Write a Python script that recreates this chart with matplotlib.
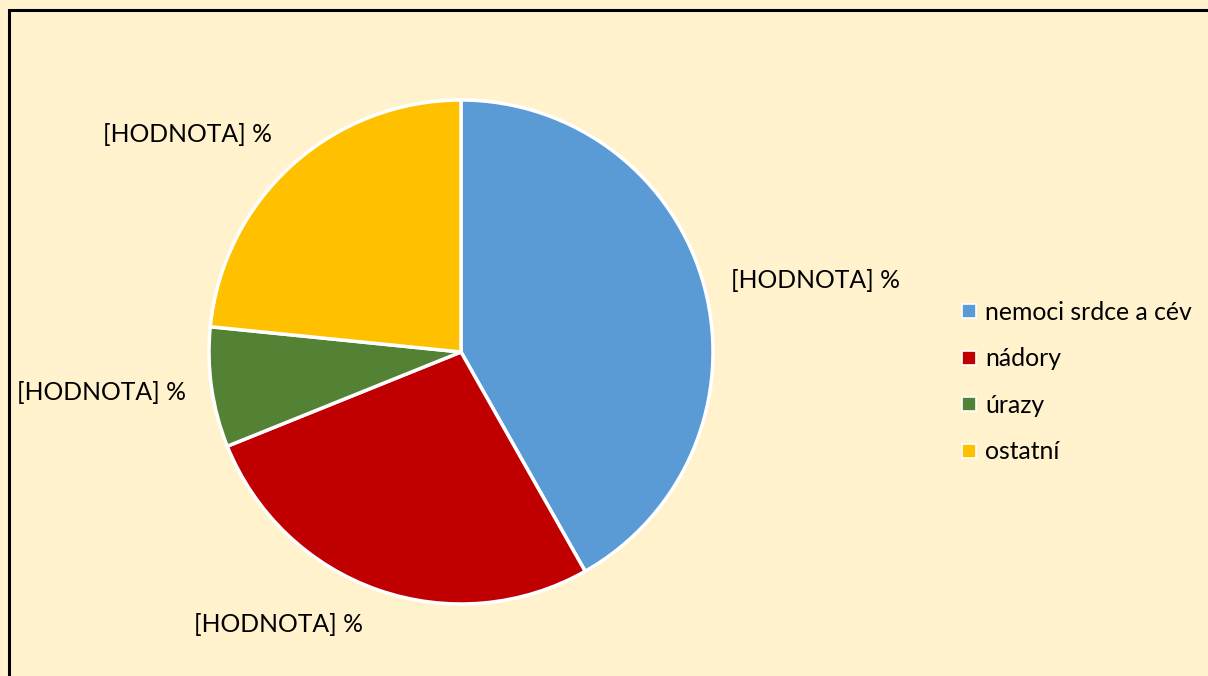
import matplotlib
matplotlib.use("Agg")
import matplotlib.pyplot as plt
from matplotlib.lines import Line2D
from matplotlib.patches import Rectangle

# data
categories = ["nemoci srdce a cév", "nádory", "úrazy", "ostatní"]
values = [41.8, 27.1, 7.7, 23.4]
label_text = ["[HODNOTA] %"] * 4
colors = ["#5B9BD5", "#C00000", "#548235", "#FFC000"]

# label anchor positions (axis units, pie radius = 1)
label_xy = [(1.405, 0.282), (-0.726, -1.083), (-1.425, -0.159), (-1.087, 0.865)]

BG = "#FFF2CC"
plt.rcParams["font.family"] = ["Lato", "DejaVu Sans"]
FS = 17.8

fig = plt.figure(figsize=(12.08, 6.76), dpi=100, facecolor=BG)
fig.patches.append(Rectangle((9 / 1208, -0.1), 1.2, 1 - 10 / 676 + 0.1,
                             transform=fig.transFigure, fill=False,
                             edgecolor="black", lw=2.2, zorder=10))

ax = fig.add_axes([209 / 1208, 72 / 676, 504 / 1208, 504 / 676])
ax.set_facecolor(BG)
wedges, _ = ax.pie(values, colors=colors, startangle=90, counterclock=False,
                   wedgeprops=dict(edgecolor="white", linewidth=2.5))
ax.set_xlim(-1, 1)
ax.set_ylim(-1, 1)
ax.set_aspect("equal")
ax.axis("off")

for (x, y), t in zip(label_xy, label_text):
    ax.text(x, y, t, ha="center", va="center", fontsize=FS, color="#000000",
            clip_on=False)

handles = [Line2D([], [], marker="s", ls="", markersize=9.5, markerfacecolor=c,
                  markeredgecolor="white", markeredgewidth=1.2) for c in colors]
fig.legend(handles, categories, loc="center left",
           bbox_to_anchor=(938 / 1208, 1 - 382 / 676), frameon=False,
           fontsize=FS, handlelength=0.7, handletextpad=0.3, labelspacing=0.95)

fig.savefig("out.png", dpi=100, facecolor=BG)
